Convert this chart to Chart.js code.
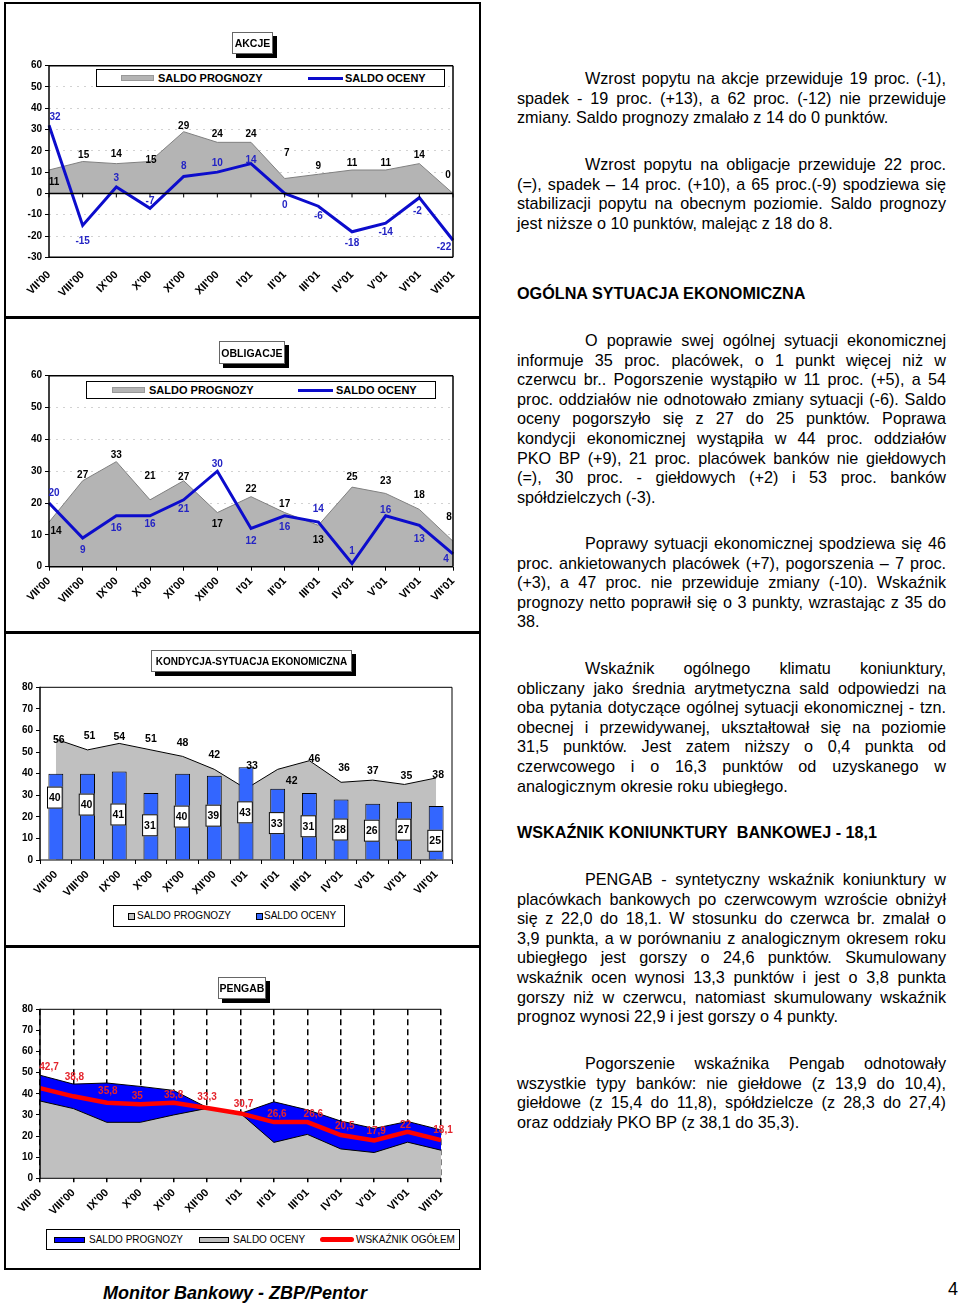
<!DOCTYPE html>
<html>
<head>
<meta charset="utf-8">
<script src="https://cdn.jsdelivr.net/npm/chart.js@4.4.0/dist/chart.umd.min.js"></script>
<style>
  body { margin: 0; background: #fff; font-family: "Liberation Sans", Arial, sans-serif; }
  #page { position: relative; width: 960px; height: 1306px; overflow: hidden; }
  .abs { position: absolute; }
  canvas { position: absolute; }
  .box { position: absolute; border: 2.5px solid #000; box-sizing: border-box; }
  .sep { position: absolute; left: 4px; width: 477px; height: 2.5px; background: #000; }
  .ttl { position: absolute; box-sizing: border-box; background: #fff; border: 1px solid #666;
         box-shadow: 4px 4px 0 #000; font-weight: bold; font-size: 10.5px;
         display: flex; align-items: center; justify-content: center; }
  .leg { position: absolute; box-sizing: border-box; background: #fff; border: 1.5px solid #000; }
  .lt { position: absolute; white-space: nowrap; line-height: 14px; }
  .txt { position: absolute; left: 517px; width: 429px; font-size: 16.2px; line-height: 19.6px; color: #000; }
  .txt div { white-space: nowrap; text-align: justify; text-align-last: justify; }
  .txt div.l { text-align-last: left; }
  .txt div.i { text-indent: 68px; }
  .txt.h { font-weight: bold; }
</style>
</head>
<body>
<div id="page">
  <div class="box" style="left:4px;top:2px;width:477px;height:1268px"></div>
  <div class="sep" style="top:316px"></div>
  <div class="sep" style="top:631px"></div>
  <div class="sep" style="top:945px"></div>

  <canvas id="c1" width="474" height="311" style="left:6px;top:4px"></canvas>
  <canvas id="c2" width="474" height="311" style="left:6px;top:319px"></canvas>
  <canvas id="c3" width="474" height="310" style="left:6px;top:634px"></canvas>
  <canvas id="c4" width="474" height="320" style="left:6px;top:948px"></canvas>

  <!-- chart 1 title + legend -->
  <div class="ttl" style="left:232px;top:32px;width:41px;height:22px">AKCJE</div>
  <div class="leg" style="left:96px;top:69px;width:349px;height:18px"></div>
  <div class="abs" style="left:121px;top:75px;width:33px;height:6px;background:#b4b4b4;border:1px solid #999;box-sizing:border-box"></div>
  <div class="lt" style="left:158px;top:71px;font-weight:bold;font-size:11px">SALDO PROGNOZY</div>
  <div class="abs" style="left:308px;top:76.5px;width:35px;height:3px;background:#0c0ccc"></div>
  <div class="lt" style="left:345px;top:71px;font-weight:bold;font-size:11px">SALDO OCENY</div>

  <!-- chart 2 title + legend -->
  <div class="ttl" style="left:219px;top:341px;width:66px;height:23px">OBLIGACJE</div>
  <div class="leg" style="left:86px;top:381px;width:350px;height:18px"></div>
  <div class="abs" style="left:112px;top:387px;width:33px;height:6px;background:#b4b4b4;border:1px solid #999;box-sizing:border-box"></div>
  <div class="lt" style="left:149px;top:383px;font-weight:bold;font-size:11px">SALDO PROGNOZY</div>
  <div class="abs" style="left:298px;top:388.5px;width:35px;height:3px;background:#0c0ccc"></div>
  <div class="lt" style="left:336px;top:383px;font-weight:bold;font-size:11px">SALDO OCENY</div>

  <!-- chart 3 title + legend -->
  <div class="ttl" style="left:151px;top:650px;width:201px;height:22px;font-size:10px">KONDYCJA-SYTUACJA EKONOMICZNA</div>
  <div class="leg" style="left:113px;top:905px;width:232px;height:22px"></div>
  <div class="abs" style="left:128px;top:912.5px;width:7px;height:7px;background:#c0c0c0;border:1px solid #000;box-sizing:border-box"></div>
  <div class="lt" style="left:137px;top:909px;font-size:10px">SALDO PROGNOZY</div>
  <div class="abs" style="left:256px;top:912.5px;width:7px;height:7px;background:#3366ff;border:1px solid #000;box-sizing:border-box"></div>
  <div class="lt" style="left:264px;top:909px;font-size:10px">SALDO OCENY</div>

  <!-- chart 4 title + legend -->
  <div class="ttl" style="left:218px;top:977px;width:48px;height:22px">PENGAB</div>
  <div class="leg" style="left:46px;top:1229px;width:414px;height:21px"></div>
  <div class="abs" style="left:54px;top:1236.5px;width:31px;height:6px;background:#0000ff;border:1px solid #000;box-sizing:border-box"></div>
  <div class="lt" style="left:89px;top:1232.5px;font-size:10px">SALDO PROGNOZY</div>
  <div class="abs" style="left:199px;top:1236.5px;width:30px;height:6px;background:#c0c0c0;border:1px solid #000;box-sizing:border-box"></div>
  <div class="lt" style="left:233px;top:1232.5px;font-size:10px">SALDO OCENY</div>
  <div class="abs" style="left:320px;top:1237px;width:34px;height:5px;background:#ff0000;border-radius:3px"></div>
  <div class="lt" style="left:356px;top:1232.5px;font-size:10px">WSKAŹNIK OGÓŁEM</div>

  <!-- right column text -->
  <div class="txt" style="top:69px">
    <div class="i">Wzrost popytu na akcje przewiduje 19 proc. (-1),</div>
    <div>spadek - 19 proc. (+13), a 62 proc. (-12) nie przewiduje</div>
    <div class="l">zmiany. Saldo prognozy zmalało z 14 do 0 punktów.</div>
  </div>
  <div class="txt" style="top:155px">
    <div class="i">Wzrost popytu na obligacje przewiduje 22 proc.</div>
    <div>(=), spadek – 14 proc. (+10), a 65 proc.(-9) spodziewa się</div>
    <div>stabilizacji popytu na obecnym poziomie. Saldo prognozy</div>
    <div class="l">jest niższe o 10 punktów, malejąc z 18 do 8.</div>
  </div>
  <div class="txt h" style="top:284px"><div class="l">OGÓLNA SYTUACJA EKONOMICZNA</div></div>
  <div class="txt" style="top:331px">
    <div class="i">O poprawie swej ogólnej sytuacji ekonomicznej</div>
    <div>informuje 35 proc. placówek, o 1 punkt więcej niż w</div>
    <div>czerwcu br.. Pogorszenie wystąpiło w 11 proc. (+5), a 54</div>
    <div>proc. oddziałów nie odnotowało zmiany sytuacji (-6). Saldo</div>
    <div>oceny pogorszyło się z 27 do 25 punktów. Poprawa</div>
    <div>kondycji ekonomicznej wystąpiła w 44 proc. oddziałów</div>
    <div>PKO BP (+9), 21 proc. placówek banków nie giełdowych</div>
    <div>(=), 30 proc. - giełdowych (+2) i 53 proc. banków</div>
    <div class="l">spółdzielczych (-3).</div>
  </div>
  <div class="txt" style="top:534px">
    <div class="i">Poprawy sytuacji ekonomicznej spodziewa się 46</div>
    <div>proc. ankietowanych placówek (+7), pogorszenia – 7 proc.</div>
    <div>(+3), a 47 proc. nie przewiduje zmiany (-10). Wskaźnik</div>
    <div>prognozy netto poprawił się o 3 punkty, wzrastając z 35 do</div>
    <div class="l">38.</div>
  </div>
  <div class="txt" style="top:659px">
    <div class="i">Wskaźnik ogólnego klimatu koniunktury,</div>
    <div>obliczany jako średnia arytmetyczna sald odpowiedzi na</div>
    <div>oba pytania dotyczące ogólnej sytuacji ekonomicznej - tzn.</div>
    <div>obecnej i przewidywanej, ukształtował się na poziomie</div>
    <div>31,5 punktów. Jest zatem niższy o 0,4 punkta od</div>
    <div>czerwcowego i o 16,3 punktów od uzyskanego w</div>
    <div class="l">analogicznym okresie roku ubiegłego.</div>
  </div>
  <div class="txt h" style="top:823px"><div class="l">WSKAŹNIK KONIUNKTURY&nbsp; BANKOWEJ - 18,1</div></div>
  <div class="txt" style="top:870px">
    <div class="i">PENGAB - syntetyczny wskaźnik koniunktury w</div>
    <div>placówkach bankowych po czerwcowym wzroście obniżył</div>
    <div>się z 22,0 do 18,1. W stosunku do czerwca br. zmalał o</div>
    <div>3,9 punkta, a w porównaniu z analogicznym okresem roku</div>
    <div>ubiegłego jest gorszy o 24,6 punktów. Skumulowany</div>
    <div>wskaźnik ocen wynosi 13,3 punktów i jest o 3,8 punkta</div>
    <div>gorszy niż w czerwcu, natomiast skumulowany wskaźnik</div>
    <div class="l">prognoz wynosi 22,9 i jest gorszy o 4 punkty.</div>
  </div>
  <div class="txt" style="top:1054px">
    <div class="i">Pogorszenie wskaźnika Pengab odnotowały</div>
    <div>wszystkie typy banków: nie giełdowe (z 13,9 do 10,4),</div>
    <div>giełdowe (z 15,4 do 11,8), spółdzielcze (z 28,3 do 27,4)</div>
    <div class="l">oraz oddziały PKO BP (z 38,1 do 35,3).</div>
  </div>

  <div class="abs" style="left:103px;top:1283px;font-weight:bold;font-style:italic;font-size:18px;white-space:nowrap">Monitor Bankowy - ZBP/Pentor</div>
  <div class="abs" style="left:948px;top:1279px;font-size:18px">4</div>
</div>

<script>
// months on the category axis
const months = ["VII'00", "VIII'00", "IX'00", "X'00", "XI'00", "XII'00", "I'01", "II'01", "III'01", "IV'01", "V'01", "VI'01", "VII'01"];

// AKCJE
const akcjePrognozy = [11, 15, 14, 15, 29, 24, 24, 7, 9, 11, 11, 14, 0];
const akcjeOceny = [32, -15, 3, -7, 8, 10, 14, 0, -6, -18, -14, -2, -22];

// OBLIGACJE
const obligPrognozy = [14, 27, 33, 21, 27, 17, 22, 17, 13, 25, 23, 18, 8];
const obligOceny = [20, 9, 16, 16, 21, 30, 12, 16, 14, 1, 16, 13, 4];

// KONDYCJA-SYTUACJA EKONOMICZNA
const kondPrognozy = [56, 51, 54, 51, 48, 42, 33, 42, 46, 36, 37, 35, 38];
const kondOceny = [40, 40, 41, 31, 40, 39, 43, 33, 31, 28, 26, 27, 25];

// PENGAB
const pengabPrognozy = [48.8, 44.6, 45.1, 43.5, 41.6, 33.5, 30.7, 36.2, 32.4, 27.1, 23.6, 26.9, 22.9];
const pengabOceny = [36.6, 33.0, 26.5, 26.5, 30.0, 33.1, 30.7, 17.0, 20.8, 13.9, 12.2, 17.1, 13.3];
const pengabOgolem = [42.7, 38.8, 35.8, 35, 35.8, 33.3, 30.7, 26.6, 26.6, 20.5, 17.9, 22, 18.1];

Chart.defaults.font.family = "'Liberation Sans', Arial, sans-serif";
Chart.defaults.color = "#000";
Chart.defaults.animation = false;

const FONT_B = { size: 10, weight: "bold" };
const FONT_X = { size: 11, weight: "bold" };

// data labels drawn next to the points (offsets are per-label nudges, in px)
const valueLabels = {
  id: "valueLabels",
  afterDatasetsDraw(chart) {
    const ctx = chart.ctx;
    chart.data.datasets.forEach((ds, di) => {
      const lb = ds.labelStyle;
      if (!lb) return;
      const meta = chart.getDatasetMeta(di);
      meta.data.forEach((el, i) => {
        const v = ds.data[i];
        const txt = lb.format ? lb.format(v) : String(v);
        const x = el.x + (lb.dx ? lb.dx[i] : 0);
        const baseY = lb.mid ? (el.y + el.base) / 2 : el.y;
        const y = baseY + (lb.dy ? lb.dy[i] : 0);
        ctx.save();
        ctx.font = "bold " + (lb.size || 10) + "px 'Liberation Sans', Arial, sans-serif";
        ctx.textAlign = "center";
        ctx.textBaseline = "middle";
        if (lb.box) {
          const w = ctx.measureText(txt).width + 4, h = 22;
          ctx.fillStyle = "#fff";
          ctx.fillRect(x - w / 2, y - h / 2, w, h);
          ctx.strokeStyle = "#000";
          ctx.lineWidth = 1;
          ctx.strokeRect(x - w / 2 + 0.5, y - h / 2 + 0.5, w - 1, h - 1);
        }
        ctx.fillStyle = lb.color;
        ctx.fillText(txt, x, y + 0.5);
        ctx.restore();
      });
    });
  }
};

// plot frame + optional zero line with category ticks
const framePlugin = {
  id: "frame",
  afterDatasetsDraw(chart, args, opts) {
    const { ctx, chartArea: a, scales } = chart;
    ctx.save();
    ctx.strokeStyle = "#000";
    ctx.lineWidth = opts.width || 1;
    const side = (x1, y1, x2, y2) => { ctx.beginPath(); ctx.moveTo(x1, y1); ctx.lineTo(x2, y2); ctx.stroke(); };
    if (opts.top !== false) side(a.left, a.top, a.right, a.top);
    if (opts.right !== false) side(a.right, a.top, a.right, a.bottom);
    side(a.left, a.bottom, a.right, a.bottom);
    ctx.lineWidth = opts.axisWidth || opts.width || 1;
    side(a.left, a.top - 0.5, a.left, a.bottom + 0.5);
    if (opts.zeroLine) {
      const y0 = scales.y.getPixelForValue(0);
      ctx.lineWidth = 1.5;
      side(a.left, y0, a.right, y0);
      ctx.lineWidth = 1;
      scales.x.ticks.forEach((t, i) => {
        const x = scales.x.getPixelForTick(i);
        side(x, y0, x, y0 + 4);
      });
    }
    ctx.restore();
  }
};

function xAxis(height, opts) {
  return Object.assign({
    afterFit: s => { s.height = height; },
    ticks: { font: FONT_X, color: "#000", minRotation: 45, maxRotation: 45, autoSkip: false, padding: 4 },
    grid: { display: true, drawOnChartArea: false, drawTicks: true, tickLength: 4, tickColor: "#000" },
    border: { display: false }
  }, opts);
}

function yAxis(width, min, max, grid) {
  return {
    min: min, max: max,
    afterFit: s => { s.width = width; },
    ticks: { stepSize: 10, font: FONT_B, color: "#000", padding: 3 },
    grid: grid || { drawOnChartArea: false, drawTicks: true, tickLength: 4, tickColor: "#000" },
    border: { display: false }
  };
}

const dottedGrid = { color: "#d2d2d2", lineWidth: 1, drawTicks: true, tickLength: 4, tickColor: "#000" };

// ---- AKCJE ----
new Chart(document.getElementById("c1"), {
  type: "line",
  data: {
    labels: months,
    datasets: [
      {
        label: "SALDO OCENY",
        data: akcjeOceny,
        borderColor: "#0c0ccc",
        borderWidth: 3,
        pointRadius: 0,
        tension: 0,
        fill: false,
        order: 1,
        labelStyle: {
          color: "#2424c4",
          dx: [6, 0, 0, 0, 0, 0, 0, 0, 0, 0, 0, -2, -9],
          dy: [-9, 15, -9, -8, -11, -9, -4, 11, 10, 11, 9, 13, 6]
        }
      },
      {
        label: "SALDO PROGNOZY",
        data: akcjePrognozy,
        borderColor: "#808080",
        borderWidth: 1,
        backgroundColor: "#b4b4b4",
        pointRadius: 0,
        tension: 0,
        fill: "origin",
        order: 2,
        labelStyle: {
          color: "#000",
          dx: [5, 1, 0, 1, 0, 0, 0, 2, 0, 0, 0, 0, -5],
          dy: [12, -7, -10, -2, -6, -9, -9, -26, -9, -7, -7, -9, -19]
        }
      }
    ]
  },
  options: {
    responsive: false,
    layout: { padding: { top: 61.7, right: 27, left: 0, bottom: 0 } },
    plugins: { legend: { display: false }, tooltip: { enabled: false }, frame: { width: 1.5, zeroLine: true } },
    scales: {
      x: xAxis(57.7, { grid: { display: false, drawTicks: false }, ticks: { font: FONT_X, color: "#000", minRotation: 45, maxRotation: 45, autoSkip: false, padding: 11 } }),
      y: Object.assign(yAxis(43, -30, 60, dottedGrid), { border: { display: false, dash: [2, 5] } })
    }
  },
  plugins: [framePlugin, valueLabels]
});

// ---- OBLIGACJE ----
new Chart(document.getElementById("c2"), {
  type: "line",
  data: {
    labels: months,
    datasets: [
      {
        label: "SALDO OCENY",
        data: obligOceny,
        borderColor: "#0c0ccc",
        borderWidth: 3,
        pointRadius: 0,
        tension: 0,
        fill: false,
        order: 1,
        labelStyle: {
          color: "#2424c4",
          dx: [5, 0, 0, 0, 0, 0, 0, 0, 0, 0, 0, 0, -7],
          dy: [-10, 12, 12, 8, 9, -7, 12, 11, -13, -13, -6, 13, 5]
        }
      },
      {
        label: "SALDO PROGNOZY",
        data: obligPrognozy,
        borderColor: "#808080",
        borderWidth: 1,
        backgroundColor: "#b4b4b4",
        pointRadius: 0,
        tension: 0,
        fill: "origin",
        order: 2,
        labelStyle: {
          color: "#000",
          dx: [7, 0, 0, 0, 0, 0, 0, 0, 0, 0, 0, 0, -4],
          dy: [9, -6, -7, -24, -4, 11, -8, -9, 14, -10, -13, -15, -24]
        }
      }
    ]
  },
  options: {
    responsive: false,
    layout: { padding: { top: 56.7, right: 27, left: 0, bottom: 0 } },
    plugins: { legend: { display: false }, tooltip: { enabled: false }, frame: { width: 1.5 } },
    scales: {
      x: xAxis(63.3),
      y: Object.assign(yAxis(43, 0, 60, dottedGrid), { border: { display: false, dash: [2, 5] } })
    }
  },
  plugins: [framePlugin, valueLabels]
});

// ---- KONDYCJA ----
new Chart(document.getElementById("c3"), {
  type: "bar",
  data: {
    labels: months,
    datasets: [
      {
        type: "bar",
        label: "SALDO OCENY",
        data: kondOceny,
        backgroundColor: "#3366ff",
        borderColor: "#000",
        borderWidth: 1,
        barPercentage: 0.47,
        categoryPercentage: 1,
        order: 1,
        labelStyle: {
          color: "#000", box: true, mid: true, size: 10.5,
          dx: [-1, -1, -1, -1, -1, -1, -1, -1, -1, -1, -1, -1, -1],
          dy: [-19, -12, -1, -1, 0, -2, -1, -1, 0, 0, -1, -1, 8]
        }
      },
      {
        type: "line",
        label: "SALDO PROGNOZY",
        data: kondPrognozy,
        borderColor: "#000",
        borderWidth: 1,
        backgroundColor: "#c0c0c0",
        pointRadius: 0,
        tension: 0,
        fill: "origin",
        order: 2,
        labelStyle: {
          color: "#000", size: 10.5,
          dx: [3, 2, 0, 0, 0, 0, 6, 14, 5, 3, 0, 2, 2],
          dy: [0, -14, -7, -11, -14, -15, -23, 11, -2, -15, -10, -9, -3]
        }
      }
    ]
  },
  options: {
    responsive: false,
    layout: { padding: { top: 53.3, right: 28, left: 0, bottom: 0 } },
    plugins: { legend: { display: false }, tooltip: { enabled: false }, frame: { width: 1, axisWidth: 1.5 } },
    scales: {
      x: xAxis(84, { offset: true, grid: { offset: true, display: true, drawOnChartArea: false, drawTicks: true, tickLength: 4, tickColor: "#000" } }),
      y: yAxis(34, 0, 80)
    }
  },
  plugins: [framePlugin, valueLabels]
});

// ---- PENGAB ----
const commaFmt = v => String(v).replace(".", ",");
new Chart(document.getElementById("c4"), {
  type: "line",
  data: {
    labels: months,
    datasets: [
      {
        label: "WSKAŹNIK OGÓŁEM",
        data: pengabOgolem,
        borderColor: "#ff0000",
        borderWidth: 4.5,
        pointRadius: 0,
        tension: 0,
        fill: false,
        order: 1,
        labelStyle: {
          color: "#e4242c", format: commaFmt,
          dx: [9, 1, 1, -3, 0, 0, 3, 3, 6, 4, 2, -2, 2],
          dy: [-21, -20, -12, -9, -8, -11, -10, -8, -8, -9, -10, -7, -10]
        }
      },
      {
        label: "SALDO OCENY",
        data: pengabOceny,
        borderColor: "#000",
        borderWidth: 1,
        backgroundColor: "#c0c0c0",
        pointRadius: 0,
        tension: 0,
        fill: "origin",
        order: 2
      },
      {
        label: "SALDO PROGNOZY",
        data: pengabPrognozy,
        borderColor: "#000",
        borderWidth: 1,
        backgroundColor: "#0000ff",
        pointRadius: 0,
        tension: 0,
        fill: "origin",
        order: 3
      }
    ]
  },
  options: {
    responsive: false,
    layout: { padding: { top: 61.3, right: 39, left: 0, bottom: 0 } },
    plugins: { legend: { display: false }, tooltip: { enabled: false }, frame: { width: 1, axisWidth: 1.5, right: false } },
    scales: {
      x: xAxis(89.7, {
        grid: { display: true, drawOnChartArea: true, color: "#000", lineWidth: 1.5, drawTicks: true, tickLength: 4, tickColor: "#000" },
        border: { display: false, dash: [6, 4] }
      }),
      y: yAxis(34, 0, 80)
    }
  },
  plugins: [framePlugin, valueLabels]
});
</script>
</body>
</html>
